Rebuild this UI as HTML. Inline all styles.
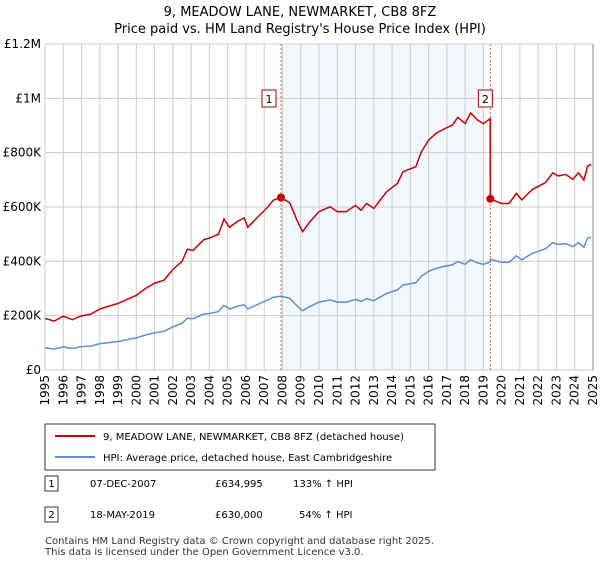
<!DOCTYPE html>
<html><head><meta charset="utf-8"><style>
body{margin:0;background:#fff;font-family:"DejaVu Sans","Liberation Sans",sans-serif;}
</style></head><body>
<svg id="c" width="600" height="560" xmlns="http://www.w3.org/2000/svg" font-family="DejaVu Sans, Liberation Sans, sans-serif">
<text x="300" y="16" text-anchor="middle" font-size="13">9, MEADOW LANE, NEWMARKET, CB8 8FZ</text>
<text x="300" y="33" text-anchor="middle" font-size="13">Price paid vs. HM Land Registry's House Price Index (HPI)</text>
<g id="plot"></g>
<g>
<rect x="45" y="424" width="390" height="46" fill="#fff" stroke="#333" stroke-width="1"/>
<line x1="55" y1="436" x2="95" y2="436" stroke="#cc0000" stroke-width="2"/>
<text x="103" y="440" font-size="10">9, MEADOW LANE, NEWMARKET, CB8 8FZ (detached house)</text>
<line x1="55" y1="457" x2="95" y2="457" stroke="#5b8fd6" stroke-width="2"/>
<text x="103" y="461" font-size="10">HPI: Average price, detached house, East Cambridgeshire</text>
</g>
<g font-size="10">
<rect x="45" y="476" width="13" height="15" fill="#fff" stroke="#333"/>
<text x="51.5" y="487" text-anchor="middle">1</text>
<text x="90" y="487">07-DEC-2007</text>
<text x="215" y="487">£634,995</text>
<text x="293" y="487">133% ↑ HPI</text>
<rect x="45" y="507" width="13" height="15" fill="#fff" stroke="#333"/>
<text x="51.5" y="518" text-anchor="middle">2</text>
<text x="90" y="518">18-MAY-2019</text>
<text x="215" y="518">£630,000</text>
<text x="299" y="518">54% ↑ HPI</text>
</g>
<text x="45" y="544" font-size="10" fill="#333">Contains HM Land Registry data © Crown copyright and database right 2025.</text>
<text x="45" y="555" font-size="10" fill="#333">This data is licensed under the Open Government Licence v3.0.</text>
</svg>
<script>
const years=[1995,1995.5,1996,1996.5,1997,1997.5,1998,1998.5,1999,1999.5,2000,2000.5,2001,2001.5,2002,2002.5,2002.8,2003.1,2003.7,2004,2004.5,2004.8,2005.1,2005.5,2005.9,2006.1,2006.6,2007.2,2007.5,2007.92,2008.4,2008.8,2009.1,2009.5,2010,2010.6,2011,2011.5,2012,2012.3,2012.6,2013,2013.7,2014.3,2014.6,2015.3,2015.6,2016,2016.4,2016.9,2017.3,2017.6,2018,2018.3,2018.7,2019,2019.37,2019.38,2020,2020.4,2020.8,2021.1,2021.3,2021.7,2022.4,2022.8,2023.1,2023.5,2023.9,2024.2,2024.5,2024.7,2024.9];
const priceK=[190,180,198,185,200,205,225,235,245,260,275,300,320,330,370,400,445,440,480,485,500,555,525,545,560,525,560,600,625,635,615,550,509,546,583,601,583,583,606,588,613,595,656,687,730,748,803,846,871,889,901,930,907,946,919,907,925,630,613,613,650,626,640,665,690,726,714,720,702,726,699,750,757];
const hpiK=[82,77,85,79,86,88,97,101,105,112,118,129,137,142,159,172,191,189,206,208,215,238,225,234,240,225,240,258,268,272,264,236,218,234,250,258,250,250,260,252,263,255,282,295,313,321,345,363,374,382,387,399,389,406,394,389,397,407,396,396,420,405,414,430,446,469,462,465,454,469,452,485,489];
const yTicks=[0,200,400,600,800,1000,1200];
const yTickLabels=["£0","£200K","£400K","£600K","£800K","£1M","£1.2M"];
const saleYears=[2007.92,2019.38];
const saleK=[635,630];
const saleLabels=["1","2"];

const X0=45,X1=593,Y0=370,Y1=44;
const xs=y=>X0+(y-1995)/30*(X1-X0);
const ys=v=>Y0-v/1200*(Y0-Y1);
const NS="http://www.w3.org/2000/svg";
const g=document.getElementById('plot');
function mk(t,a,p){const e=document.createElementNS(NS,t);for(const k in a)e.setAttribute(k,a[k]);(p||g).appendChild(e);return e;}
let sh=mk('rect',{x:xs(saleYears[0]),y:Y1,width:xs(2019.0)-xs(saleYears[0]),height:Y0-Y1,fill:'#eef3fd',opacity:0.7});


for(let yr=1995;yr<=2025;yr++){
 let l=mk('line',{x1:xs(yr),x2:xs(yr),y1:Y1,y2:Y0,stroke:'#cccccc','stroke-width':1});
 
 
 let t=mk('text',{x:0,y:0,'font-size':12,'text-anchor':'end',transform:`translate(${xs(yr)+4},${Y0+5}) rotate(-90)`});
 t.textContent=yr;
 
 
}
yTicks.forEach((v,i)=>{
 let l=mk('line',{x1:X0,x2:X1,y1:ys(v),y2:ys(v),stroke:'#cccccc','stroke-width':1});
 
 
 let t=mk('text',{x:X0-4,y:ys(v)+4,'font-size':12,'text-anchor':'end'});
 t.textContent=yTickLabels[i];
 
 
});
let ra=mk('line',{x1:X1,x2:X1,y1:Y1,y2:Y0,stroke:'#888','stroke-width':1});


saleYears.forEach((yr,i)=>{
 let l=mk('line',{x1:xs(yr),x2:xs(yr),y1:Y1,y2:Y0,stroke:'#e06666','stroke-width':1,'stroke-dasharray':'2,2'});
 
 
});
const pts=a=>a.map((v,i)=>xs(years[i]).toFixed(1)+','+ys(v).toFixed(1)).join(' ');
let hl=mk('polyline',{points:pts(hpiK),fill:'none',stroke:'#5b8fd6','stroke-width':1.5});


let pl=mk('polyline',{points:pts(priceK),fill:'none',stroke:'#cc0000','stroke-width':1.5});


saleYears.forEach((yr,i)=>{
 let c=mk('circle',{cx:xs(yr),cy:ys(saleK[i]),r:4,fill:'#cc0000'});
 
 
 let bx=xs(yr)-(i==0?12:5);
 let r=mk('rect',{x:bx-7,y:90,width:14,height:17,fill:'#fff',stroke:'#aa0000'});
 
 
 let t=mk('text',{x:bx,y:103,'font-size':11,'text-anchor':'middle'});
 t.textContent=saleLabels[i];
 
 
});
</script>
</body></html>
